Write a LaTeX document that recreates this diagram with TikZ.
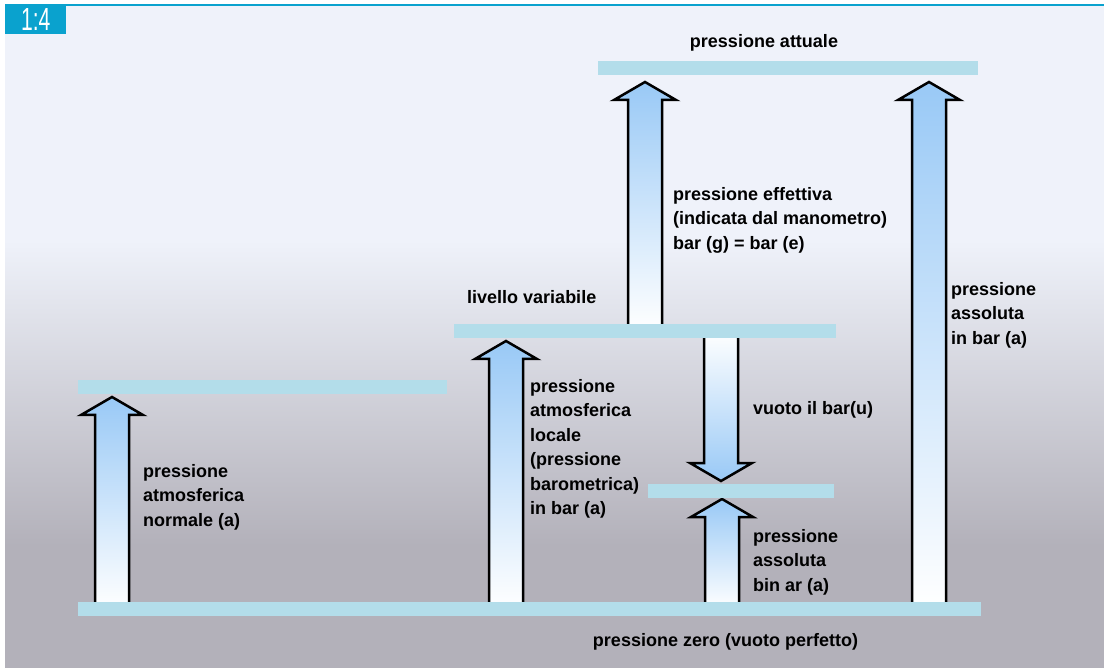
\documentclass[tikz,border=0pt]{standalone}
\usepackage{fontspec}
\setmainfont{Liberation Sans}
\usepackage{graphicx}

\definecolor{panel}{HTML}{EFF2FA}
\definecolor{panelgray}{HTML}{B3B1BA}
\definecolor{barblue}{HTML}{B3DDEA}
\definecolor{arrowblue}{HTML}{99C9F6}
\definecolor{tabteal}{HTML}{0AA2CE}

\tikzset{
  level/.style={draw=barblue, line width=14pt}, % 压力水平线
  blockup/.style={draw=black, line width=2.5pt, top color=arrowblue, bottom color=white}, % 向上箭头
  blockdown/.style={draw=black, line width=2.5pt, top color=white, bottom color=arrowblue}, % 向下箭头
  lbl/.style={font=\fontsize{18}{24.5}\selectfont\bfseries, inner sep=0pt, align=left, anchor=north west} % 文字样式
}

\begin{document}
\begin{tikzpicture}[x=1pt, y=-1pt]
    \useasboundingbox (0,0) rectangle (1104,668);
    \fill[white] (0,0) rectangle (1104,668);

    % 背景
    \fill[panel] (5,5) rectangle (1104,240.5);
    \shade[top color=panel, bottom color=panelgray] (5,240) rectangle (1104,545.5);
    \fill[panelgray] (5,545) rectangle (1104,668);
    \draw[tabteal, line width=2pt] (66,5) -- (1104,5);
    \node[fill=tabteal, text=white, anchor=north west, inner sep=0pt,
      minimum width=61pt, minimum height=30pt]
      (tab) at (5,4) {\scalebox{0.66}[1]{\fontsize{32}{32}\selectfont 1:4}};

    \coordinate (Z1) at (78,609);
    \coordinate (Z2) at (981,609);
    \coordinate (N1) at (78,387);
    \coordinate (N2) at (447,387);
    \coordinate (V1) at (454,331);
    \coordinate (V2) at (836,331);
    \coordinate (A1) at (598,68);
    \coordinate (A2) at (978,68);
    \coordinate (B1) at (648,491);
    \coordinate (B2) at (834,491);

    \foreach \x/\yb/\yt in {112/609/397, 506/609/341, 645/331/82, 722/609/499, 929/609/82} {
      \draw[blockup] ({\x-17},\yb) -- ({\x-17},{\yt+18}) -- ({\x-31},{\yt+18}) -- (\x,\yt)
        -- ({\x+31},{\yt+18}) -- ({\x+17},{\yt+18}) -- ({\x+17},\yb) -- cycle;
    }
    \draw[blockdown] (704,331) -- (704,463) -- (690,463) -- (721,481)
      -- (752,463) -- (738,463) -- (738,331) -- cycle;

    \foreach \a/\b in {Z1/Z2, N1/N2, V1/V2, A1/A2, B1/B2} {
      \draw[level] (\a) -- (\b);
    }

    \node[lbl, anchor=base] (attuale) at (764,48) {pressione attuale};
    \node[lbl] (effettiva) at (673,187) {pressione effettiva\\(indicata dal manometro)\\bar (g) = bar (e)};
    \node[lbl, anchor=base west] (variabile) at (467,304) {livello variabile};
    \node[lbl] (assoluta) at (951,282) {pressione\\assoluta\\in bar (a)};
    \node[lbl] (locale) at (530,379) {pressione\\atmosferica\\locale\\(pressione\\barometrica)\\in bar (a)};
    \node[lbl, anchor=base west] (vuoto) at (753,415) {vuoto il bar(u)};
    \node[lbl] (normale) at (143,464) {pressione\\atmosferica\\normale (a)};
    \node[lbl] (binar) at (753,529) {pressione\\assoluta\\bin ar (a)};
    \node[lbl, anchor=base] (zero) at (725.5,646) {pressione zero (vuoto perfetto)};
\end{tikzpicture}
\end{document}
